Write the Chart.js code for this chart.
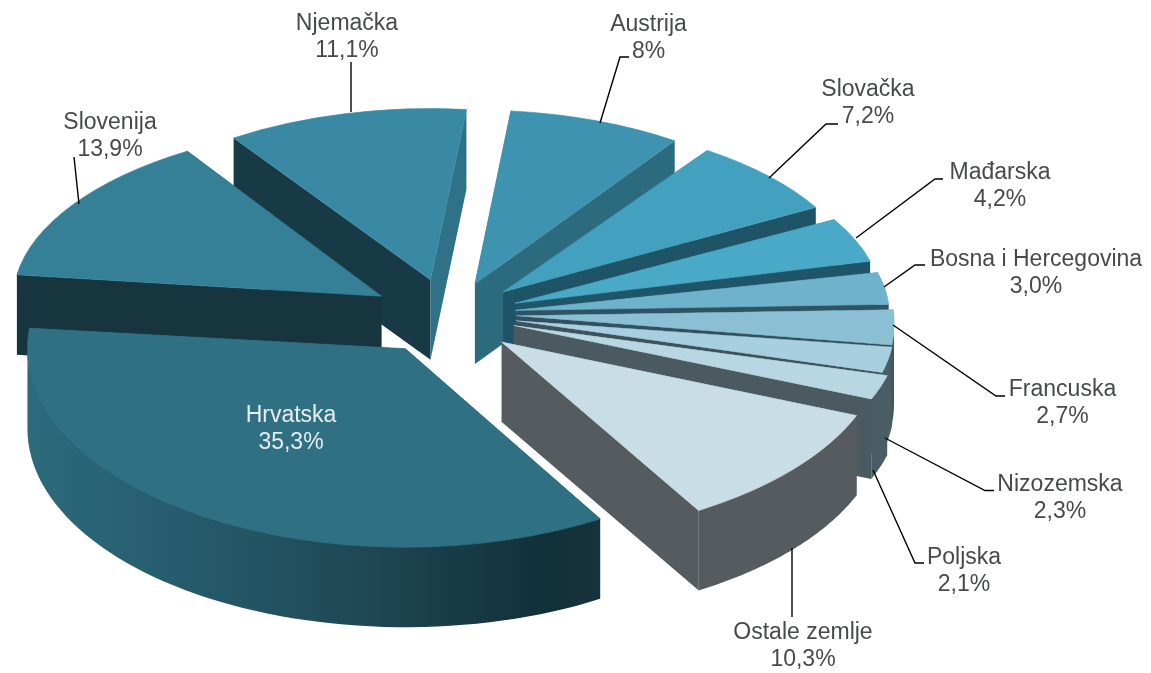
<!DOCTYPE html>
<html>
<head>
<meta charset="utf-8">
<style>
  html, body { margin: 0; background: #fff; }
  #wrap { width: 1151px; height: 673px; }
</style>
<script src="https://cdn.jsdelivr.net/npm/chart.js@4"></script>
</head>
<body>
<div id="wrap"><canvas id="myChart" width="1151" height="673"></canvas></div>
<script>
const countries = ["Hrvatska", "Slovenija", "Njemačka", "Austrija", "Slovačka", "Mađarska", "Bosna i Hercegovina", "Francuska", "Nizozemska", "Poljska", "Ostale zemlje"];
const shares = [35.3, 13.9, 11.1, 8, 7.2, 4.2, 3.0, 2.7, 2.3, 2.1, 10.3];
const shareLabels = ["35,3%", "13,9%", "11,1%", "8%", "7,2%", "4,2%", "3,0%", "2,7%", "2,3%", "2,1%", "10,3%"];

// boja gornje plohe, prednjeg reza i vanjskog zida
const topColors = ["#2f7083", "#357f97", "#3a89a4", "#3e93b0", "#43a0bf", "#4aa9c6", "#6fb2cb", "#8bbfd4", "#a7cfdf", "#b9d7e3", "#c9dde6"];
const cutColors = ["#2f6f82", "#16353f", "#2f7288", "#2c6b7e", "#1e5466", "#1f5568", "#2c5465", "#33505e", "#3c535d", "#4a5a60", "#555b5e"];
const sideColors = ["#2c6a7c", "#16353f", "#2f7288", "#2c6778", "#1e5466", "#1f5568", "#2c5465", "#3f565f", "#4a5d64", "#4a5d64", "#555b5e"];
const startCutColors = ["#2f6f82", "#16353f", "#173a46", "#2f7288", "#1e5e72", "#1f5568", "#2c5465", "#33505e", "#3c535d", "#4a5a60", "#555b5e"];

// rastav kriski i nagib svake kriske
const explode = [83, 80, 80, 72, 72, 70, 66, 66, 67, 67, 68];
const nudgeY = [-3, 0, 0, 0, -1, 0, 0, 0, 0, 0, 4];
const squashY = [0.525, 0.457, 0.453, 0.46, 0.455, 0.45, 0.45, 0.55, 0.48, 0.5, 0.52];
const squashX = [1, 0.9735, 0.93, 0.93, 0.95, 0.97, 0.99, 1, 1, 1.02, 1.012];
const skewX = [0, -0.0385, 0, 0, 0, 0, 0, 0, 0, 0, 0];
const skewY = [0, 0.0092, 0, 0, 0, 0, 0.012, 0.0185, 0.018, 0.008, 0];
const wallHeight = 80;

// položaj teksta [x, y prvog reda] i linije
const labelPos = [[291, 416], [110, 123], [347, 24], [648.5, 25], [868, 90], [1000, 173], [1036, 260], [1062.5, 389.5], [1060, 484.5], [964, 558], [803, 633]];
const leaders = [
    null,
    [[74, 157], [79, 204]],
    [[351, 62], [351, 112]],
    [[629, 57], [620, 57], [600, 123]],
    [[838, 124], [826, 124], [769, 178]],
    [[943, 179], [935, 179], [856, 238]],
    [[925, 265], [915, 265], [884, 287]],
    [[1005, 396], [996, 396], [893, 325]],
    [[994, 490.5], [985, 490.5], [885, 438]],
    [[924, 563], [915, 563], [873, 470]],
    [[792, 617], [792, 548]]
];

function geo(arc, i) {
    const p = arc.getProps(["x", "y", "startAngle", "endAngle", "outerRadius"], true);
    const mid = (p.startAngle + p.endAngle) / 2;
    return {
        a1: p.startAngle, a2: p.endAngle, mid: mid, r: p.outerRadius, x: p.x, y: p.y, i: i,
        tx: p.x + Math.cos(mid) * explode[i],
        ty: p.y + Math.sin(mid) * explode[i] * squashY[i] + nudgeY[i]
    };
}

function rim(g, a) {
    const c = Math.cos(a) * g.r, s = Math.sin(a) * g.r;
    return [g.tx + squashX[g.i] * c + skewX[g.i] * s, g.ty + skewY[g.i] * c + squashY[g.i] * s];
}

function cutFace(ctx, g, a, color) {
    const p = rim(g, a);
    ctx.fillStyle = color;
    ctx.beginPath();
    ctx.moveTo(g.tx, g.ty);
    ctx.lineTo(p[0], p[1]);
    ctx.lineTo(p[0], p[1] + wallHeight);
    ctx.lineTo(g.tx, g.ty + wallHeight);
    ctx.closePath();
    ctx.fill();
}

function outerWall(ctx, g, i) {
    // vidljiv je samo dio luka okrenut prema dolje
    [0, Math.PI * 2].forEach(function (base) {
        const from = Math.max(g.a1, base);
        const to = Math.min(g.a2, base + Math.PI);
        if (to <= from) return;
        const steps = 60;
        ctx.beginPath();
        for (let n = 0; n <= steps; n++) {
            const p = rim(g, from + (to - from) * n / steps);
            n ? ctx.lineTo(p[0], p[1] - 1) : ctx.moveTo(p[0], p[1] - 1);
        }
        for (let n = steps; n >= 0; n--) {
            const p = rim(g, from + (to - from) * n / steps);
            ctx.lineTo(p[0], p[1] + wallHeight);
        }
        ctx.closePath();
        if (i === 0) {
            const grad = ctx.createLinearGradient(g.tx - g.r, 0, rim(g, g.a1)[0], 0);
            grad.addColorStop(0, "#2c6a7c");
            grad.addColorStop(0.3, "#255a6b");
            grad.addColorStop(0.6, "#1e4753");
            grad.addColorStop(0.9, "#12303a");
            grad.addColorStop(1, "#17333c");
            ctx.fillStyle = grad;
        } else {
            ctx.fillStyle = sideColors[i];
        }
        ctx.fill();
    });
}

const pie3d = {
    id: "pie3d",
    beforeDatasetsDraw(chart) {
        const ctx = chart.ctx;
        const arcs = chart.getDatasetMeta(0).data;
        const order = arcs.map(function (arc, i) { return i; });
        order.sort(function (a, b) { return Math.sin(geo(arcs[a], a).mid) - Math.sin(geo(arcs[b], b).mid); });
        order.forEach(function (i) {
            const g = geo(arcs[i], i);
            cutFace(ctx, g, g.a1, startCutColors[i]);
            cutFace(ctx, g, g.a2, cutColors[i]);
            outerWall(ctx, g, i);
            ctx.save();
            ctx.transform(squashX[i], skewY[i], skewX[i], squashY[i], g.tx, g.ty);
            ctx.translate(-g.x, -g.y);
            arcs[i].draw(ctx);
            ctx.restore();
        });
        return false;
    },
    afterDraw(chart) {
        const ctx = chart.ctx;
        ctx.save();
        ctx.strokeStyle = "#000";
        ctx.lineWidth = 1.4;
        leaders.forEach(function (line) {
            if (!line) return;
            ctx.beginPath();
            line.forEach(function (p, n) { n ? ctx.lineTo(p[0], p[1]) : ctx.moveTo(p[0], p[1]); });
            ctx.stroke();
        });
        ctx.font = "23px 'Liberation Sans'";
        ctx.textAlign = "center";
        ctx.textBaseline = "middle";
        countries.forEach(function (name, i) {
            ctx.fillStyle = i === 0 ? "#e6edf0" : "#47494b";
            ctx.fillText(name, labelPos[i][0], labelPos[i][1]);
            ctx.fillText(shareLabels[i], labelPos[i][0], labelPos[i][1] + 27);
        });
        ctx.restore();
    }
};

new Chart(document.getElementById("myChart"), {
    type: "pie",
    data: {
        labels: countries,
        datasets: [{
            data: shares,
            backgroundColor: topColors,
            borderColor: topColors,
            borderWidth: 1,
            radius: 378
        }]
    },
    options: {
        responsive: false,
        animation: false,
        rotation: 149,
        layout: { padding: { left: 0, right: 251, top: 0, bottom: 43 } },
        plugins: {
            legend: { display: false },
            tooltip: { enabled: false }
        }
    },
    plugins: [pie3d]
});
</script>
</body>
</html>
